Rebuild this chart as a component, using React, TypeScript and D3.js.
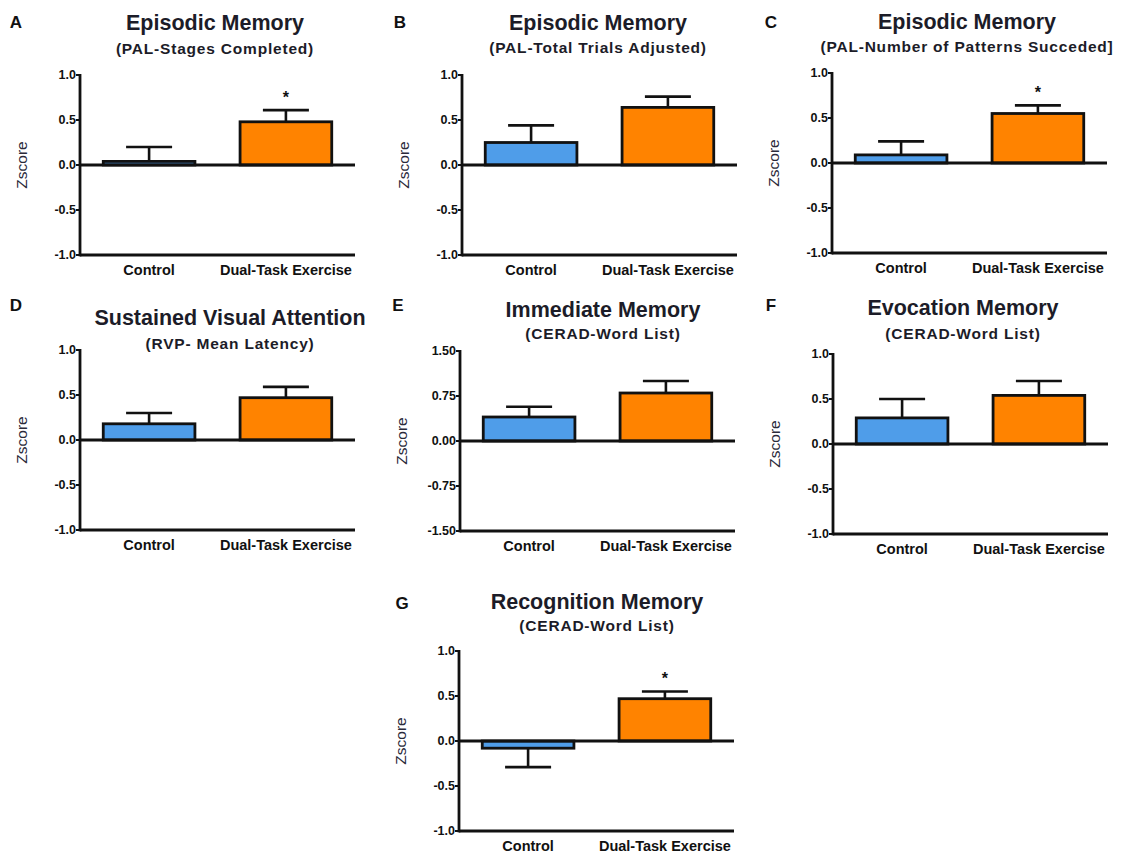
import React from "react";
import * as d3 from "d3";

// ---------- data ----------
const categories = ["Control", "Dual-Task Exercise"];
const panelLetters = ["A", "B", "C", "D", "E", "F", "G"];
const panelTitles = [
  "Episodic Memory",
  "Episodic Memory",
  "Episodic Memory",
  "Sustained Visual Attention",
  "Immediate Memory",
  "Evocation Memory",
  "Recognition Memory",
];
const panelSubtitles = [
  "(PAL-Stages Completed)",
  "(PAL-Total Trials Adjusted)",
  "(PAL-Number of Patterns Succeded]",
  "(RVP- Mean Latency)",
  "(CERAD-Word List)",
  "(CERAD-Word List)",
  "(CERAD-Word List)",
];
const controlMeans = [0.04, 0.25, 0.09, 0.18, 0.4, 0.29, -0.08];
const controlErrors = [0.16, 0.19, 0.15, 0.12, 0.17, 0.21, 0.21];
const exerciseMeans = [0.48, 0.64, 0.55, 0.47, 0.8, 0.54, 0.47];
const exerciseErrors = [0.13, 0.12, 0.09, 0.12, 0.2, 0.16, 0.08];
const significant = [true, false, true, false, false, false, true];
const yLimits = [1, 1, 1, 1, 1.5, 1, 1];
const tickDecimals = [1, 1, 1, 1, 2, 1, 1];

// ---------- layout ----------
const layoutX0 = [80, 462, 832, 80, 460, 833, 459];
const layoutYTop = [75, 75, 73, 350, 351, 354, 651];
const layoutTitleX = [215, 598, 967, 230, 603, 963, 597];
const layoutTitleY = [23, 23, 22, 318, 310, 308, 602];
const layoutSubY = [48, 47, 46, 343, 333, 333, 625];
const layoutLetterX = [16, 400, 771, 16, 398, 771, 402];
const layoutLetterY = [22, 22, 22, 305, 305, 305, 603];

const PLOT_W = 275;
const PLOT_H = 180;
const BLUE = "#4f9de9";
const ORANGE = "#ff8300";
const INK = "#111";
const FONT = "'Liberation Sans', Arial, sans-serif";

function Panel({ i }: { i: number }) {
  const x0 = layoutX0[i];
  const yTop = layoutYTop[i];
  const lim = yLimits[i];
  const y = d3.scaleLinear().domain([-lim, lim]).range([yTop + PLOT_H, yTop]);
  const x = d3
    .scaleBand<string>()
    .domain(categories)
    .range([x0, x0 + PLOT_W])
    .paddingInner(0.33)
    .paddingOuter(0.17);
  const ticks = [-lim, -lim / 2, 0, lim / 2, lim];
  const fmt = (v: number) => d3.format(`.${tickDecimals[i]}f`)(v).replace("\u2212", "-");
  const means = [controlMeans[i], exerciseMeans[i]];
  const errs = [controlErrors[i], exerciseErrors[i]];
  const fills = [BLUE, ORANGE];
  const capHalf = 23;

  return (
    <g>
      <text x={layoutLetterX[i]} y={layoutLetterY[i]} dominantBaseline="central" textAnchor="middle"
        fontFamily={FONT} fontWeight="bold" fontSize={17} fill={INK}>{panelLetters[i]}</text>
      <text x={layoutTitleX[i]} y={layoutTitleY[i]} dominantBaseline="central" textAnchor="middle"
        fontFamily={FONT} fontWeight="bold" fontSize={21.5} fill="#1c1c28">{panelTitles[i]}</text>
      <text x={layoutTitleX[i]} y={layoutSubY[i]} dominantBaseline="central" textAnchor="middle"
        fontFamily={FONT} fontWeight="bold" fontSize={15.5} letterSpacing={0.8} fill="#1c1c28">{panelSubtitles[i]}</text>

      {/* y label */}
      <text transform={`translate(${x0 - 59},${(y(lim) + y(-lim)) / 2}) rotate(-90)`}
        dominantBaseline="central" textAnchor="middle" fontFamily={FONT} fontSize={15.5} fill="#2a2a3a">Zscore</text>

      {/* bars */}
      {categories.map((c, k) => {
        const m = means[k];
        const bx = x(c)!;
        const bw = x.bandwidth();
        const top = Math.min(y(m), y(0));
        const h = Math.abs(y(m) - y(0));
        const cx = bx + bw / 2;
        const eEnd = m >= 0 ? m + errs[k] : m - errs[k];
        return (
          <g key={c}>
            <line x1={cx} x2={cx} y1={y(m)} y2={y(eEnd)} stroke={INK} strokeWidth={2.6} />
            <line x1={cx - capHalf} x2={cx + capHalf} y1={y(eEnd)} y2={y(eEnd)} stroke={INK} strokeWidth={2.6} />
            <rect x={bx} y={top} width={bw} height={h} fill={fills[k]} stroke={INK} strokeWidth={2.8} />
            {k === 1 && significant[i] && (
              <text x={cx} y={y(eEnd) - 13} textAnchor="middle" dominantBaseline="central"
                fontFamily={FONT} fontWeight="bold" fontSize={16} fill={INK}>*</text>
            )}
            <text x={cx} y={y(-lim) + 15} textAnchor="middle" dominantBaseline="central"
              fontFamily={FONT} fontWeight="bold" fontSize={14.5} fill={INK}>{c}</text>
          </g>
        );
      })}

      {/* axes */}
      <line x1={x0} x2={x0} y1={y(lim) - 1} y2={y(-lim) + 1.4} stroke={INK} strokeWidth={2.8} />
      <line x1={x0} x2={x0 + PLOT_W} y1={y(0)} y2={y(0)} stroke={INK} strokeWidth={2.8} />
      <line x1={x0} x2={x0 + PLOT_W} y1={y(-lim)} y2={y(-lim)} stroke={INK} strokeWidth={2.8} />
      {ticks.map((t) => (
        <g key={t}>
          <line x1={x0 - 4} x2={x0} y1={y(t)} y2={y(t)} stroke={INK} strokeWidth={2} />
          <text x={x0 - 4} y={y(t)} textAnchor="end" dominantBaseline="central"
            fontFamily={FONT} fontWeight="bold" fontSize={12.5} fill={INK}>{fmt(t)}</text>
        </g>
      ))}
    </g>
  );
}

export default function App() {
  return (
    <svg width={1129} height={855} style={{ position: "absolute", left: 0, top: 0, background: "#fff" }}>
      <rect width={1129} height={855} fill="#fff" />
      {panelLetters.map((_, i) => (
        <Panel key={i} i={i} />
      ))}
    </svg>
  );
}
